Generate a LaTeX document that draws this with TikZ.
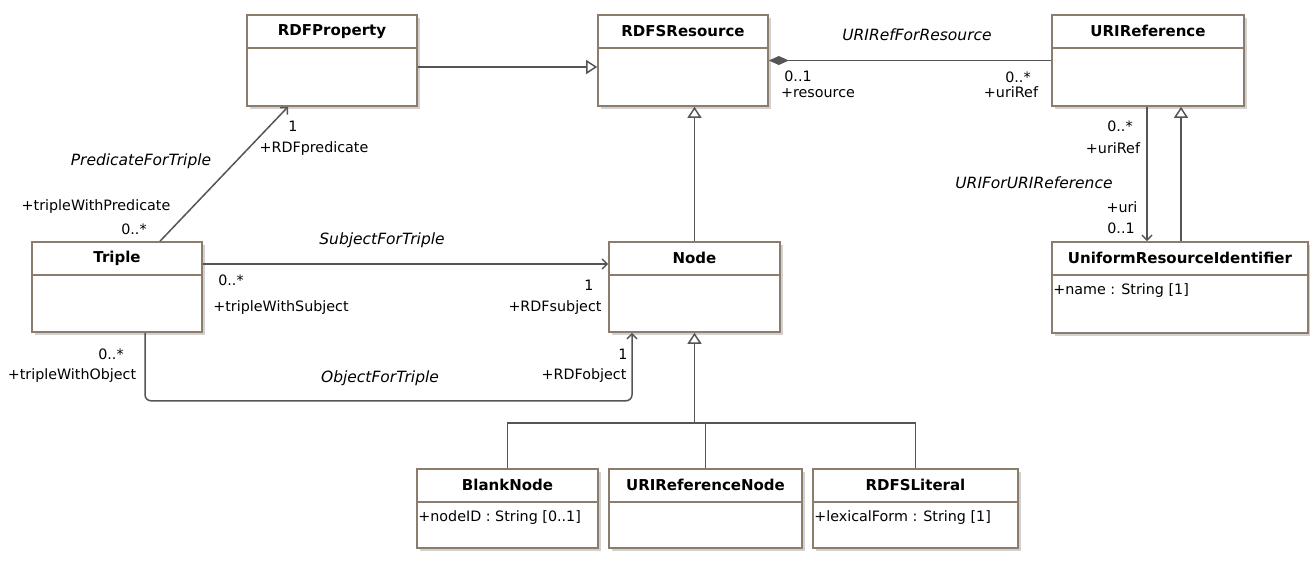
\documentclass[tikz,border=0pt]{standalone}
\usepackage{fontspec}
\setmainfont{DejaVu Sans}
\usetikzlibrary{arrows.meta,shadows}
\definecolor{boxline}{RGB}{140,124,108}
\definecolor{linegray}{RGB}{85,85,85}

\begin{document}
\begin{tikzpicture}[x=1pt,y=-1pt,
  umlbox/.style={draw=boxline,fill=white,line width=1.6pt,inner sep=0pt,
    drop shadow={shadow xshift=3pt,shadow yshift=-3pt,fill=black!18,opacity=1}},
  boxsep/.style={draw=boxline,line width=1.5pt},
  clsname/.style={font=\fontsize{15}{17}\selectfont\bfseries,inner sep=0pt},
  attr/.style={font=\fontsize{14.3}{16}\selectfont,anchor=west,inner sep=0pt},
  rolename/.style={font=\fontsize{14.3}{16}\selectfont,inner sep=0pt},
  assocname/.style={font=\fontsize{15.5}{17}\selectfont\itshape,inner sep=0pt},
  tree/.style={draw=linegray,line width=1.5pt},
  gen/.style={tree,-{Triangle[open,length=11pt,width=14pt,fill=white]}},
  assoc/.style={tree,-{Straight Barb[length=5pt,width=10pt]}},
  comp/.style={tree,{Diamond[length=20pt,width=9pt]}-}]
\useasboundingbox (0,0) rectangle (1310,560);

% classes
\foreach \id/\x/\y/\w/\h/\title in {
  rdfprop/332/60.5/170/91/RDFProperty,
  rdfsres/683/60.5/170/91/RDFSResource,
  uriref/1148/60.5/192/91/URIReference,
  triple/117/287/170/90/Triple,
  rdfnode/694.5/287/171/90/Node,
  uri/1180/287.5/256/91/UniformResourceIdentifier,
  blank/507.5/508.5/181/79/BlankNode,
  urinode/705.5/508.5/193/79/URIReferenceNode,
  literal/915.5/508.5/205/79/RDFSLiteral}
{
  \node[umlbox,minimum width=\w pt,minimum height=\h pt] (\id) at (\x,\y) {};
  \draw[boxsep] ([yshift=-34pt]\id.north west) -- ([yshift=-34pt]\id.north east);
  \node[clsname] (\id-title) at ([yshift=-17pt]\id.north) {\title};
}
\foreach \id/\attrtext in {uri/{+name : String [1]},
  blank/{+nodeID : String [0..1]}, literal/{+lexicalForm : String [1]}}
  \node[attr] (\id-attr) at ([xshift=2pt,yshift=-49pt]\id.north west) {\attrtext};

% generalizations
\draw[gen] ([yshift=-6.5pt]rdfprop.east) -- ([yshift=-6.5pt]rdfsres.west);
\draw[gen] (rdfnode.north) -- (rdfnode.north |- rdfsres.south);
\draw[gen] ([xshift=1pt]uri.north) -- ([xshift=1pt]uri.north |- uriref.south);
\coordinate (fork) at (rdfnode.south |- 0,423);
\draw[tree] (blank.north) |- (fork) -| (literal.north);
\draw[tree] (urinode.north) -- (urinode.north |- fork);
\draw[gen] (fork) -- (rdfnode.south);

% associations
\draw[comp] (rdfsres.east) -- (uriref.west);
\draw[assoc] ([xshift=-1pt]uriref.south) -- ([xshift=-1pt]uriref.south |- uri.north);
\draw[assoc] ([xshift=43pt]triple.north) -- ([xshift=-44pt]rdfprop.south);
\draw[assoc] ([yshift=23pt]triple.east) -- ([yshift=23pt]rdfnode.west);
\draw[assoc,rounded corners=6pt] ([xshift=28pt]triple.south) -- ++(0,68) -| ([xshift=-62.5pt]rdfnode.south);

% association names and roles
\foreach \n/\x/\y/\t in {refassoc/917/35/URIRefForResource,
  uriassoc/1034/183/URIForURIReference, predassoc/141/161/PredicateForTriple,
  subjassoc/382/240/SubjectForTriple, objassoc/380/378/ObjectForTriple}
  \node[assocname] (\n) at (\x,\y) {\t};
\foreach \n/\x/\y/\t in {resmult/798/76/0..1, resrole/818/93/+resource,
  refmult/1018/77/0..*, refrole/1011/92/+uriRef,
  urirefmult/1120/126/0..*, urirefrole/1113/148/+uriRef,
  urirole/1122/207/+uri, urimult/1121/228/0..1,
  predmult/293/126/1, predrole/314/149/+RDFpredicate,
  tpredrole/96/207/+tripleWithPredicate, tpredmult/134/229/0..*,
  tsubjmult/231/280/0..*, tsubjrole/281/308/+tripleWithSubject,
  subjmult/589/285/1, subjrole/555/308/+RDFsubject,
  tobjmult/111/354/0..*, tobjrole/72/376/+tripleWithObject,
  objmult/623/354/1, objrole/584/376/+RDFobject}
  \node[rolename] (\n) at (\x,\y) {\t};
\end{tikzpicture}
\end{document}
